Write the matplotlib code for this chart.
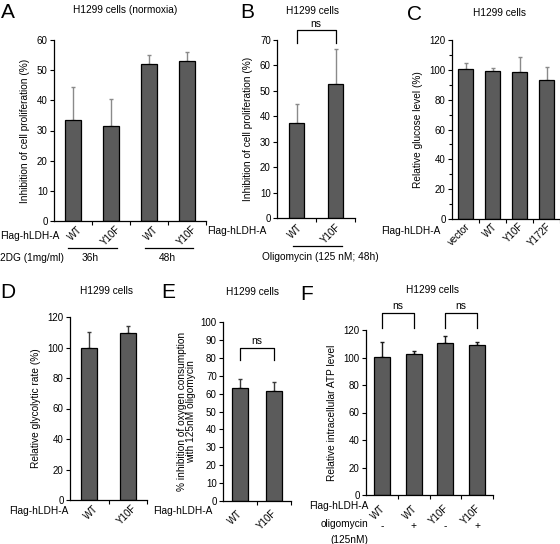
import matplotlib
matplotlib.use('Agg')
import matplotlib.pyplot as plt
import numpy as np

plt.rcParams['font.family'] = ['Liberation Sans', 'DejaVu Sans']
plt.rcParams['font.size'] = 7

# ---------------- data ----------------
a_labels = ['WT', 'Y10F', 'WT', 'Y10F']
a_values = [33.5, 31.5, 52.0, 53.0]
a_errors = [11.0, 8.9, 2.9, 3.0]

b_labels = ['WT', 'Y10F']
b_values = [37.5, 52.6]
b_errors = [7.2, 13.7]

c_labels = ['vector', 'WT', 'Y10F', 'Y172F']
c_values = [100.5, 99.2, 98.3, 93.4]
c_errors = [4.1, 1.8, 10.5, 8.6]

d_labels = ['WT', 'Y10F']
d_values = [100.0, 109.7]
d_errors = [10.4, 4.4]

e_labels = ['WT', 'Y10F']
e_values = [63.0, 61.4]
e_errors = [5.3, 4.9]

f_labels = ['WT', 'WT', 'Y10F', 'Y10F']
f_oligo = ['-', '+', '-', '+']
f_values = [100.7, 102.5, 110.9, 109.2]
f_errors = [10.9, 1.9, 4.8, 2.4]

W, H = 560, 544
fig = plt.figure(figsize=(W / 100, H / 100), dpi=100)

BAR = '#5b5b5b'


def rect(x0, y0, x1, y1):
    return [x0 / W, 1 - y1 / H, (x1 - x0) / W, (y1 - y0) / H]


def ftext(x, y, s, **kw):
    fig.text(x / W, 1 - y / H, s, **kw)


def panel(r, labels, values, errors, ylim, yticks, ecolor, width, minor=None,
          lab_dy=4, lab_dx=2):
    ax = fig.add_axes(rect(*r))
    n = len(values)
    x = np.arange(n)
    ax.bar(x, values, width=width, color=BAR, edgecolor='black', linewidth=0.9, zorder=2)
    ax.errorbar(x, values, yerr=[np.zeros(n), errors], fmt='none', ecolor=ecolor,
                elinewidth=1.0, capsize=1.6, capthick=1.0, zorder=1)
    ax.set_xlim(-0.5, n - 0.5)
    ax.set_ylim(*ylim)
    ax.set_yticks(yticks)
    if minor is not None:
        ax.set_yticks(minor, minor=True)
    ax.set_xticks(np.arange(n) + 0.5)
    ax.set_xticklabels([])
    for s in ['top', 'right']:
        ax.spines[s].set_visible(False)
    for s in ['left', 'bottom']:
        ax.spines[s].set_linewidth(0.9)
    ax.tick_params(axis='both', which='major', length=3, width=0.8, direction='out', labelsize=7, pad=1.5)
    ax.tick_params(axis='y', which='minor', length=2, width=0.8)
    ax.patch.set_alpha(0)
    for i, lab in enumerate(labels):
        ax.annotate(lab, xy=(i, 0), xycoords=('data', 'axes fraction'),
                    xytext=(lab_dx * 0.72, -(lab_dy + 3) * 0.72), textcoords='offset points',
                    rotation=45, rotation_mode='anchor', ha='right', va='center',
                    fontsize=7, annotation_clip=False)
    return ax


def bracket(ax, x0, x1, ytop, ybot, ytext):
    ax.plot([x0, x0, x1, x1], [ybot, ytop, ytop, ybot], color='black', lw=0.9,
            clip_on=False)
    ax.text((x0 + x1) / 2, ytext, 'ns', ha='center', va='bottom', fontsize=7.5)


# ---------------- Panel A ----------------
axA = panel((54, 40, 206, 221), a_labels, a_values, a_errors, (0, 60),
            np.arange(0, 61, 10), '#8a8a8a', 0.4, lab_dy=4, lab_dx=8)
axA.set_ylabel('Inhibition of cell proliferation (%)', fontsize=7.3, labelpad=5)
ftext(8, 12, 'A', fontsize=15, ha='center', va='center')
ftext(125, 10, 'H1299 cells (normoxia)', fontsize=7.3, ha='center', va='center')
ftext(0, 236, 'Flag-hLDH-A', fontsize=7.3, ha='left', va='center')
ftext(0, 258, '2DG (1mg/ml)', fontsize=7.3, ha='left', va='center')
fig.add_artist(plt.Line2D([68 / W, 117 / W], [1 - 248 / H, 1 - 248 / H], color='black', lw=0.9))
fig.add_artist(plt.Line2D([145 / W, 193 / W], [1 - 248 / H, 1 - 248 / H], color='black', lw=0.9))
ftext(90, 258, '36h', fontsize=7.3, ha='center', va='center')
ftext(167, 258, '48h', fontsize=7.3, ha='center', va='center')

# ---------------- Panel B ----------------
axB = panel((277, 40, 355, 218), b_labels, b_values, b_errors, (0, 70),
            np.arange(0, 71, 10), '#8a8a8a', 0.41, lab_dy=5, lab_dx=4)
axB.set_ylabel('Inhibition of cell proliferation (%)', fontsize=7.3, labelpad=5)
bracket(axB, 0, 1, 73.9, 68.8, 74.3)
ftext(247, 12, 'B', fontsize=15, ha='center', va='center')
ftext(312, 11, 'H1299 cells', fontsize=7.3, ha='center', va='center')
ftext(267, 231, 'Flag-hLDH-A', fontsize=7.3, ha='right', va='center')
fig.add_artist(plt.Line2D([293 / W, 342 / W], [1 - 246 / H, 1 - 246 / H], color='black', lw=0.9))
ftext(320, 257, 'Oligomycin (125 nM; 48h)', fontsize=7.3, ha='center', va='center')

# ---------------- Panel C ----------------
axC = panel((452, 40, 560, 219), c_labels, c_values, c_errors, (0, 120),
            np.arange(0, 121, 20), '#8a8a8a', 0.52, minor=np.arange(0, 121, 10),
            lab_dy=3, lab_dx=3)
axC.set_ylabel('Relative glucose level (%)', fontsize=7.3, labelpad=5)
ftext(414, 14, 'C', fontsize=15, ha='center', va='center')
ftext(499, 13, 'H1299 cells', fontsize=7.3, ha='center', va='center')
ftext(440, 231, 'Flag-hLDH-A', fontsize=7.3, ha='right', va='center')

# ---------------- Panel D ----------------
axD = panel((70, 317, 147, 500), d_labels, d_values, d_errors, (0, 120),
            np.arange(0, 121, 20), '#3a3a3a', 0.42, lab_dy=4, lab_dx=7)
axD.set_ylabel('Relative glycolytic rate (%)', fontsize=7.3, labelpad=5)
ftext(8, 292, 'D', fontsize=15, ha='center', va='center')
ftext(107, 291, 'H1299 cells', fontsize=7.3, ha='center', va='center')
ftext(68, 511, 'Flag-hLDH-A', fontsize=7.3, ha='right', va='center')

# ---------------- Panel E ----------------
axE = panel((223, 322, 291, 501), e_labels, e_values, e_errors, (0, 100),
            np.arange(0, 101, 10), '#3a3a3a', 0.49, lab_dy=8, lab_dx=1)
axE.set_ylabel('% inhibition of oxygen consumption\nwith 125nM oligomycin', fontsize=7.3,
               labelpad=3, linespacing=0.95)
bracket(axE, 0, 1, 85.5, 78.8, 86.5)
ftext(168, 292, 'E', fontsize=15, ha='center', va='center')
ftext(252, 292, 'H1299 cells', fontsize=7.3, ha='center', va='center')
ftext(212, 511, 'Flag-hLDH-A', fontsize=7.3, ha='right', va='center')

# ---------------- Panel F ----------------
axF = panel((366, 330, 493, 495), f_labels, f_values, f_errors, (0, 120),
            np.arange(0, 121, 20), '#1a1a1a', 0.5, lab_dy=9, lab_dx=2)
axF.set_ylabel('Relative intracellular ATP level', fontsize=7.3, labelpad=5)
bracket(axF, 0, 1, 132.4, 121.5, 133.5)
bracket(axF, 2, 3, 132.4, 121.5, 133.5)
for i, s in enumerate(f_oligo):
    axF.annotate(s, xy=(i, 0), xycoords=('data', 'axes fraction'),
                 xytext=(0, -31 * 0.72), textcoords='offset points',
                 ha='center', va='center', fontsize=7.3, annotation_clip=False)
ftext(307, 295, 'F', fontsize=15, ha='center', va='center')
ftext(433, 290, 'H1299 cells', fontsize=7.3, ha='center', va='center')
ftext(368, 506, 'Flag-hLDH-A', fontsize=7.3, ha='right', va='center')
ftext(368, 524, 'oligomycin', fontsize=7.3, ha='right', va='center')
ftext(368, 540, '(125nM)', fontsize=7.3, ha='right', va='center')

fig.savefig('out.png', dpi=100)
